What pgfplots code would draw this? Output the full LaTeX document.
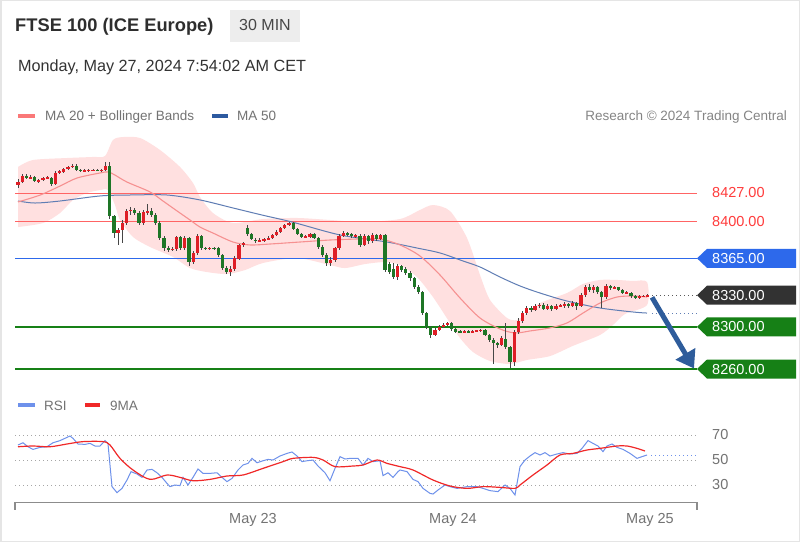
\documentclass[border=0pt]{standalone}
\usepackage{fontspec}
\setmainfont{Liberation Sans}
\usepackage{pgfplots}
\usepackage{pgfplotstable}
\pgfplotsset{compat=1.18}
\usetikzlibrary{arrows.meta}

\definecolor{upc}{RGB}{222,30,38}
\definecolor{dnc}{RGB}{30,118,38}
\definecolor{wickc}{RGB}{70,70,70}
\definecolor{bandc}{RGB}{255,224,224}
\definecolor{ma20c}{RGB}{246,145,145}
\definecolor{ma20leg}{RGB}{250,120,120}
\definecolor{ma50c}{RGB}{95,125,180}
\definecolor{ma50leg}{RGB}{45,90,160}
\definecolor{resred}{RGB}{255,100,100}
\definecolor{resredtxt}{RGB}{255,60,60}
\definecolor{supblue}{RGB}{45,105,235}
\definecolor{supgreen}{RGB}{22,128,22}
\definecolor{darktag}{RGB}{50,50,50}
\definecolor{arrowc}{RGB}{46,92,155}
\definecolor{rsic}{RGB}{110,145,235}
\definecolor{mac}{RGB}{240,40,40}
\definecolor{txtgray}{RGB}{115,115,115}

\newcommand{\fs}[1]{\fontsize{#1}{#1}\selectfont}
\newcommand{\pricetag}[3]{%
  \fill[#1] (axis cs:697,#2) -- ++(10pt,9.5pt) -- ++(89pt,0pt) -- ++(0pt,-19pt) -- ++(-89pt,0pt) -- cycle;
  \node[anchor=west, text=white, inner sep=0pt] at ([xshift=15pt]axis cs:697,#2) {\fs{14.5}#3};
}

% 30-minute candles: index, open, high, low, close
\pgfplotstableread{
i o h l c
0 8435 8440 8432 8438
1 8438 8445 8437 8443
2 8443 8445 8440 8441
3 8441 8444 8440 8442
4 8442 8443 8437 8438
5 8438 8440 8437 8439
6 8439 8442 8438 8441
7 8441 8443 8440 8441.5
8 8441 8442 8434 8436
9 8436 8448 8435 8446.5
10 8446.5 8449 8445 8447.5
11 8447.5 8451 8446 8450
12 8450 8453 8449 8452
13 8452 8455 8451 8453
14 8453 8455 8448 8449
15 8449 8450 8447 8448
16 8448 8449.5 8447.5 8448.5
17 8448.5 8450 8447.5 8448.5
18 8448.5 8449.5 8447.5 8449
19 8449 8450 8448 8448.5
20 8448.5 8450 8447.5 8449
21 8449 8456 8448 8453
22 8453 8456 8402 8405
23 8405 8406 8384 8389
24 8389 8394 8378 8392
25 8392 8401 8380 8399
26 8399 8412 8397 8410
27 8410 8414 8406 8411
28 8411 8413 8406 8408
29 8408 8410 8397 8399
30 8399 8411 8397 8409
31 8409 8417 8406 8410
32 8410 8413 8404 8406
33 8406 8408 8397 8399
34 8399 8400 8382 8384
35 8384 8386 8372 8375
36 8375 8377 8371 8373
37 8373 8376 8372 8374
38 8374 8386 8372 8385
39 8385 8386 8373 8375
40 8375 8386 8373 8384
41 8384 8385 8358 8362
42 8362 8372 8360 8370
43 8370 8388 8368 8386
44 8386 8387 8373 8375
45 8375 8376 8373 8374.5
46 8374.5 8376 8373 8375
47 8375 8376 8373.5 8374.5
48 8374.5 8376 8366 8368
49 8368 8369 8354 8356
50 8356 8358 8350 8352
51 8352 8358 8348 8355
52 8355 8367 8353 8365
53 8365 8379 8363 8377.5
54 8377.5 8381 8376 8379.5
55 8394 8397 8386 8388
56 8388 8389 8382 8383
57 8383 8384 8380 8381.5
58 8381.5 8384 8380.5 8382
59 8382 8384.5 8381 8383
60 8383 8386 8382 8384.5
61 8384.5 8388 8383.5 8387
62 8387 8391.5 8386 8390.5
63 8390.5 8395 8389.5 8394
64 8394 8397.5 8393 8396.5
65 8396.5 8400 8395.5 8398.5
66 8398.5 8399.5 8392 8393
67 8393 8394 8387 8388
68 8388 8389 8384 8385
69 8385 8387 8384 8385.5
70 8385.5 8389 8384.5 8388
71 8388 8389 8383 8384
72 8384 8385 8374 8376
73 8376 8378 8366 8368
74 8368 8370 8358 8361
75 8361 8366 8358 8364
76 8364 8376 8362 8375
77 8375 8388 8373 8386
78 8386 8391 8385 8389
79 8389 8390 8386 8388
80 8388 8389.5 8384 8386
81 8386 8388 8384.5 8386.5
82 8386.5 8388 8376 8378
83 8378 8388 8377 8386
84 8386 8387 8379 8381
85 8381 8389 8380 8387
86 8387 8388 8382 8383
87 8383 8388.5 8382 8387
88 8387 8388 8352 8354
89 8360 8362 8350 8352
90 8355 8361 8345 8347
91 8347 8360 8345 8358
92 8358 8359 8352 8354
93 8355 8357 8349 8351
94 8351 8353 8344 8346
95 8346 8347 8336 8338
96 8338 8340 8331 8333
97 8333 8334 8311 8313
98 8313 8314 8298 8300
99 8300 8301 8290 8292
100 8292 8299 8291 8297
101 8297 8302 8296 8300
102 8300 8304 8299 8302
103 8302 8305 8301 8304
104 8304 8305 8296 8298
105 8298 8298.5 8294 8295.5
106 8295.5 8297 8294 8295
107 8295 8297 8294 8295.5
108 8295.5 8297 8294 8295
109 8295 8297 8294 8296
110 8296 8297.5 8295 8296.5
111 8296.5 8298 8295.5 8297
112 8297 8298 8291 8292
113 8292 8293 8286 8288
114 8288 8289 8265 8285
115 8285 8286 8280 8283
116 8283 8291 8282 8289
117 8289 8304 8279 8281
118 8281 8282 8261 8267
119 8267 8297 8263 8295
120 8295 8308 8293 8306
121 8306 8315 8304 8313
122 8313 8320 8311 8318
123 8318 8320 8314 8316
124 8316 8322 8315 8320
125 8320 8323 8318 8321
126 8321 8323 8316 8317
127 8317 8322 8316 8320
128 8320 8321 8315 8317
129 8317 8322 8316 8320
130 8320 8322 8319 8320.5
131 8320.5 8324 8318 8322
132 8322 8323 8318 8320
133 8320 8325 8319 8323
134 8323 8324 8316 8320
135 8320 8332 8319 8330
136 8330 8340 8328 8338
137 8338 8341 8333 8335
138 8335 8340 8332 8338
139 8338 8339 8331 8333
140 8333 8334 8318 8328
141 8328 8341 8327 8339
142 8339 8340 8335 8337
143 8337 8339 8336 8337.5
144 8337.5 8338 8334 8335
145 8335 8336 8331 8332
146 8332 8334 8331 8332.5
147 8332.5 8333 8327.5 8329
148 8329.5 8330 8326 8327.5
149 8328 8330 8327 8329
150 8329 8330 8328 8329
151 8329 8331 8328 8330
}\candles

% Bollinger band outline: upper band left to right, then lower band right to left
\pgfplotstableread{
x p
18 8451.7
33 8458.3
67 8460.2
93 8461.2
105 8462.1
113 8477.3
123 8480.1
140 8479.2
160 8467.8
180 8451.7
193 8436.5
200 8423.2
213 8408
233 8398.5
263 8402.3
297 8403.3
330 8401.4
363 8399.5
400 8402.3
420 8410.9
433 8415.6
450 8409.9
467 8384.3
480 8349.2
490 8325.5
507 8308.4
517 8306.5
527 8313.1
540 8322.6
567 8332.1
583 8340.7
600 8344.5
617 8344.5
633 8343.5
647 8342.6
647 8320.7
625 8312.2
613 8301.8
600 8292.3
573 8282
550 8272.3
527 8268.6
510 8264.8
490 8267.6
473 8276.1
460 8289.4
450 8303.7
433 8328.3
417 8347.3
400 8358.7
385 8361.5
365 8359.6
345 8355.8
330 8358.7
297 8365.3
263 8360.6
245 8353.9
227 8350.1
207 8352
190 8355.8
173 8366.3
150 8375.8
133 8385.3
120 8401.4
115 8415.6
108 8429.8
100 8429.8
87 8427
73 8420.4
60 8408
43 8398.5
18 8394.7
}\band

\pgfplotstableread{
x p
18 8418.5
40 8425
60 8433.6
77 8441.2
100 8446
108 8447
115 8444
127 8437.4
150 8428
163 8419.4
177 8410
190 8401.4
200 8394.7
213 8389
233 8380.5
250 8377.7
270 8378.6
300 8380.5
330 8382.4
360 8383.4
380 8383.4
400 8377.7
420 8367.2
440 8349.2
460 8327.4
480 8308.4
500 8298
515 8294.2
530 8296.1
550 8299
567 8303.7
583 8313.1
600 8322.6
617 8328.3
633 8329.3
647 8328.3
}\maTwenty

\pgfplotstableread{
x p
18 8419.4
35 8417.5
60 8419.4
100 8424.2
130 8425.1
167 8425.1
200 8420.4
233 8412.8
262 8406.1
292 8399.5
340 8387.2
387 8380.5
417 8374.8
440 8370.1
463 8362.5
480 8356.8
500 8347.3
520 8338.8
540 8332.1
567 8324.5
600 8317.9
633 8314.1
647 8313.1
}\maFifty

\pgfplotstableread{
x v
18 62
23 63.8
28 60.6
33 58.5
40 60.1
47 60.6
53 63.8
60 65.5
67 68.1
70 69.2
73 67.3
78 62.8
85 62.5
90 63.3
95 61.2
100 61.2
105 65.5
108 63
112 28.7
117 23.9
122 27.3
127 34
131 40.7
137 38.8
142 36.1
147 42
152 42.5
157 39.8
162 36.1
167 31.3
170 28.7
175 30
180 29.5
183 36.1
188 30
193 36.1
198 42.8
203 39.3
210 39.3
217 39.8
222 36.1
227 32.7
232 35.3
238 42
243 46
248 47.3
252 51.3
257 47.8
263 49.4
268 50.5
273 50
280 53.2
287 55.3
292 56.4
297 53.2
302 48.7
307 49.4
313 50
318 45.2
325 39.8
330 33.4
335 43.3
340 52.7
345 50.8
350 51.3
358 51.3
363 46
368 51.3
373 48.7
380 49.4
383 37.5
388 39.8
393 36.1
398 40.7
400 42
407 40.7
413 34.5
418 32.7
423 27.3
430 23.3
433 22.8
438 26
445 30
450 28.7
457 27.3
467 28.7
477 28.7
483 27.3
490 25.5
498 24.7
505 30
510 27.3
515 22
520 44.7
525 50
530 53.2
535 55.9
540 54
545 55.9
550 53.2
557 54.8
563 55.9
570 54.8
577 55.3
582 59.3
588 65.5
593 63.3
598 61.2
603 56.7
607 61.2
612 62.8
617 60.1
623 58.5
630 55.3
637 51.3
642 52.7
647 54
}\rsi

\pgfplotstableread{
x v
18 60.6
33 61.2
50 60.6
67 62.8
83 64.7
103 64.7
110 62
120 51.3
133 42
150 34.5
167 38
180 36.1
193 33.4
210 34.5
227 37.2
243 38
263 43.3
283 48.7
293 51.3
313 52.1
323 50
335 44.7
353 45.2
363 46
377 50
387 47.3
400 44.7
413 42
433 34
450 29.2
467 27.3
483 28.7
500 28.1
515 27.3
520 30
533 38
547 46
560 54
573 55.3
587 58
600 59.3
617 61.2
627 61.2
637 59.3
645 57.2
}\rsima

\begin{document}
\begin{tikzpicture}[x=1pt,y=1pt]
\fill[white] (0,0) rectangle (800,542);
\draw[black!10, line width=1.5pt] (0.75,0.75) rectangle (799.25,541.25);

% header
\fill[black!7] (230,500) rectangle (300,532);
\node[anchor=base west, text=black!82, inner sep=0pt] at (15,510.5) {\fs{18.3}\bfseries FTSE 100 (ICE Europe)};
\node[anchor=base, text=black!72, inner sep=0pt] at (265,511) {\fs{16}30 MIN};
\node[anchor=base west, text=black!80, inner sep=0pt] at (18,470.5) {\fs{16.2}Monday, May 27, 2024 7:54:02 AM CET};

% legends
\fill[ma20leg] (18,424) rectangle (35,428);
\node[anchor=base west, text=txtgray, inner sep=0pt] at (45,421) {\fs{13.5}MA 20 + Bollinger Bands};
\fill[ma50leg] (212,424) rectangle (228,428);
\node[anchor=base west, text=txtgray, inner sep=0pt] at (237,421) {\fs{13.5}MA 50};
\node[anchor=base east, text=black!48, inner sep=0pt] at (787,421) {\fs{13.5}Research © 2024 Trading Central};
\fill[rsic] (18,135) rectangle (35,139);
\node[anchor=base west, text=txtgray, inner sep=0pt] at (44,132) {\fs{13.5}RSI};
\fill[mac] (85,135) rectangle (100,139);
\node[anchor=base west, text=txtgray, inner sep=0pt] at (110,132) {\fs{13.5}9MA};

% main price panel
\begin{axis}[at={(15pt,167pt)}, anchor=south west, scale only axis,
  width=685pt, height=240pt, xmin=15, xmax=700, ymin=8254.32, ymax=8482.03,
  hide axis, clip=false]
  \addplot[draw=none, fill=bandc, smooth, tension=0.45, forget plot] table[x=x,y=p]{\band};

  \addplot[resred, line width=1pt] coordinates {(15,8427) (697,8427)};
  \addplot[resred, line width=1pt] coordinates {(15,8400) (697,8400)};
  \addplot[supblue, line width=1.5pt] coordinates {(15,8365) (697,8365)};
  \addplot[supgreen, line width=2.6pt] coordinates {(15,8300) (697,8300)};
  \addplot[supgreen, line width=2.6pt] coordinates {(15,8260) (697,8260)};

  \addplot[ma50c, line width=1pt, smooth] table[x=x,y=p]{\maFifty};
  \addplot[ma20c, line width=1.1pt, smooth] table[x=x,y=p]{\maTwenty};
  \addplot[ma50c, line width=1pt, dash pattern=on 1pt off 3pt] coordinates {(652,8313.1) (697,8313.1)};
  \addplot[black!65, line width=1pt, dash pattern=on 1pt off 3pt] coordinates {(652,8330) (697,8330)};

  % wicks
  \addplot[draw=none, mark=none, forget plot,
    error bars/.cd, y dir=both, y explicit, error mark=none,
    error bar style={draw=wickc, line width=0.8pt}]
    table[x expr={18+4.17*\thisrow{i}}, y expr={(\thisrow{h}+\thisrow{l})/2},
          y error expr={(\thisrow{h}-\thisrow{l})/2}]{\candles};
  % rising bodies
  \addplot[draw=none, mark=none, forget plot,
    restrict expr to domain={\thisrow{c}-\thisrow{o}}{0:1000},
    error bars/.cd, y dir=both, y explicit, error mark=none,
    error bar style={draw=upc, line width=3.2pt}]
    table[x expr={18+4.17*\thisrow{i}}, y expr={(\thisrow{o}+\thisrow{c})/2},
          y error expr={max(abs(\thisrow{c}-\thisrow{o})/2,0.55)}]{\candles};
  % falling bodies
  \addplot[draw=none, mark=none, forget plot,
    restrict expr to domain={\thisrow{c}-\thisrow{o}}{-1000:-0.01},
    error bars/.cd, y dir=both, y explicit, error mark=none,
    error bar style={draw=dnc, line width=3.2pt}]
    table[x expr={18+4.17*\thisrow{i}}, y expr={(\thisrow{o}+\thisrow{c})/2},
          y error expr={max(abs(\thisrow{c}-\thisrow{o})/2,0.55)}]{\candles};

  \draw[arrowc, line width=5pt, -{Triangle[length=17pt,width=22pt]}]
    (axis cs:652,8328) -- (axis cs:694,8260.5);

  \node[anchor=west, text=resredtxt, inner sep=0pt] at ([xshift=15pt]axis cs:697,8427) {\fs{14.5}8427.00};
  \node[anchor=west, text=resredtxt, inner sep=0pt] at ([xshift=15pt]axis cs:697,8400) {\fs{14.5}8400.00};
  \pricetag{supblue}{8365}{8365.00}
  \pricetag{darktag}{8330}{8330.00}
  \pricetag{supgreen}{8300}{8300.00}
  \pricetag{supgreen}{8260}{8260.00}
\end{axis}

% RSI panel
\begin{axis}[at={(15pt,39.5pt)}, anchor=south west, scale only axis,
  width=685pt, height=82.5pt, xmin=15, xmax=700, ymin=16, ymax=82,
  hide axis, clip=false]
  \addplot[black!35, line width=1pt, dash pattern=on 1pt off 3pt] coordinates {(15,70) (697,70)};
  \addplot[black!35, line width=1pt, dash pattern=on 1pt off 3pt] coordinates {(15,50) (697,50)};
  \addplot[black!35, line width=1pt, dash pattern=on 1pt off 3pt] coordinates {(15,30) (697,30)};
  \addplot[rsic, line width=1pt, dash pattern=on 1pt off 3pt] coordinates {(651,54) (697,54)};
  \addplot[rsic, line width=1pt] table[x=x,y=v]{\rsi};
  \addplot[mac, line width=1.2pt, smooth] table[x=x,y=v]{\rsima};
  \draw[black!45, line width=1.2pt] ([yshift=-7pt]axis cs:15,16) -- (axis cs:15,16) -- (axis cs:697,16) -- ([yshift=-7pt]axis cs:697,16);
  \node[anchor=base, text=black!55, inner sep=0pt] at ([yshift=-20.5pt]axis cs:253,16) {\fs{14.5}May 23};
  \node[anchor=base, text=black!55, inner sep=0pt] at ([yshift=-20.5pt]axis cs:453,16) {\fs{14.5}May 24};
  \node[anchor=base, text=black!55, inner sep=0pt] at ([yshift=-20.5pt]axis cs:650,16) {\fs{14.5}May 25};
  \node[anchor=west, text=black!55, inner sep=0pt] at ([xshift=15pt]axis cs:697,70) {\fs{14.5}70};
  \node[anchor=west, text=black!55, inner sep=0pt] at ([xshift=15pt]axis cs:697,50) {\fs{14.5}50};
  \node[anchor=west, text=black!55, inner sep=0pt] at ([xshift=15pt]axis cs:697,30) {\fs{14.5}30};
\end{axis}
\pgfresetboundingbox
\path[use as bounding box] (0,0) rectangle (800,542);
\end{tikzpicture}
\end{document}
